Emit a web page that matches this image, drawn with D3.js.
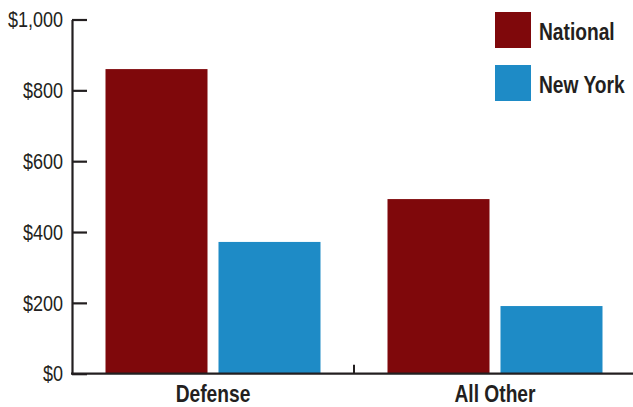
<!DOCTYPE html>
<html>
<head>
<meta charset="utf-8">
<script src="https://cdn.jsdelivr.net/npm/d3@7"></script>
<style>
  html, body { margin: 0; padding: 0; background: #fff; }
  svg { display: block; }
  text { font-family: 'Liberation Sans', Arial, sans-serif; fill: #231f20; }
</style>
</head>
<body>
<svg id="chart" width="633" height="407"></svg>
<script>
// Spending per category, national vs New York
const categories = ["Defense", "All Other"];
const seriesNames = ["National", "New York"];
const nationalValues = [860, 493];
const newYorkValues = [372, 191];
const yTicks = [0, 200, 400, 600, 800, 1000];
const seriesColors = ["#7f080b", "#1e8bc6"];

// horizontal squeeze giving the condensed lettering
const SQ = 0.8;

const svg = d3.select("#chart");
const axisLeftX = 72, baseY = 373.7, topY = 19.5;

const y = d3.scaleLinear().domain([0, 1000]).range([baseY, topY]);
const x0 = d3.scaleBand().domain(categories).range([axisLeftX, 636]).padding(0);
const x1 = d3.scaleBand().domain(seriesNames).range([33.5, 248.5]).paddingInner(0.0973).paddingOuter(0);
const color = d3.scaleOrdinal().domain(seriesNames).range(seriesColors);

const rows = categories.map((c, i) => ({
  category: c,
  values: [
    { name: seriesNames[0], value: nationalValues[i] },
    { name: seriesNames[1], value: newYorkValues[i] }
  ]
}));

// bars
const groups = svg.append("g").selectAll("g").data(rows).join("g")
  .attr("transform", d => `translate(${x0(d.category)},0)`);
groups.selectAll("rect").data(d => d.values).join("rect")
  .attr("x", d => x1(d.name))
  .attr("width", x1.bandwidth())
  .attr("y", d => y(d.value))
  .attr("height", d => y(0) - y(d.value))
  .attr("fill", d => color(d.name));

// y axis with inward ticks
const fmt = d => "$" + d3.format(",")(d);
const yAxis = svg.append("g")
  .attr("transform", `translate(${axisLeftX},0)`)
  .call(d3.axisLeft(y).tickValues(yTicks).tickFormat(fmt).tickSizeInner(-15).tickSizeOuter(0).tickPadding(9));
yAxis.select(".domain").attr("stroke", "#231f20").attr("stroke-width", 2.2);
yAxis.selectAll(".tick line").attr("stroke", "#231f20").attr("stroke-width", 2.2);
yAxis.selectAll(".tick text")
  .attr("font-size", 22.5)
  .attr("fill", "#231f20")
  .style("font-family", "'Liberation Sans', Arial, sans-serif")
  .attr("x", -9 / SQ)
  .attr("transform", `scale(${SQ},1)`);

// x axis baseline and category divider tick
const xAxis = svg.append("g");
xAxis.append("line")
  .attr("x1", axisLeftX - 1).attr("x2", 633)
  .attr("y1", y(0)).attr("y2", y(0))
  .attr("stroke", "#231f20").attr("stroke-width", 2.2);
xAxis.append("line")
  .attr("x1", x0(categories[1])).attr("x2", x0(categories[1]))
  .attr("y1", y(0)).attr("y2", y(0) - 9)
  .attr("stroke", "#231f20").attr("stroke-width", 2);

// category labels
const groupCenter = x1(seriesNames[0]) + (x1(seriesNames[1]) + x1.bandwidth() - x1(seriesNames[0])) / 2;
svg.append("g").selectAll("text").data(categories).join("text")
  .attr("transform", d => `translate(${x0(d) + groupCenter},402) scale(${SQ},1)`)
  .attr("text-anchor", "middle")
  .attr("font-size", 24)
  .attr("font-weight", "bold")
  .text(d => d);

// legend
const legend = svg.append("g").selectAll("g").data(seriesNames).join("g")
  .attr("transform", (d, i) => `translate(495,${12 + i * 53})`);
legend.append("rect").attr("width", 36).attr("height", 36).attr("fill", d => color(d));
legend.append("text")
  .attr("transform", `translate(44,27.5) scale(${SQ},1)`)
  .attr("font-size", 24)
  .attr("font-weight", "bold")
  .text(d => d);
</script>
</body>
</html>
